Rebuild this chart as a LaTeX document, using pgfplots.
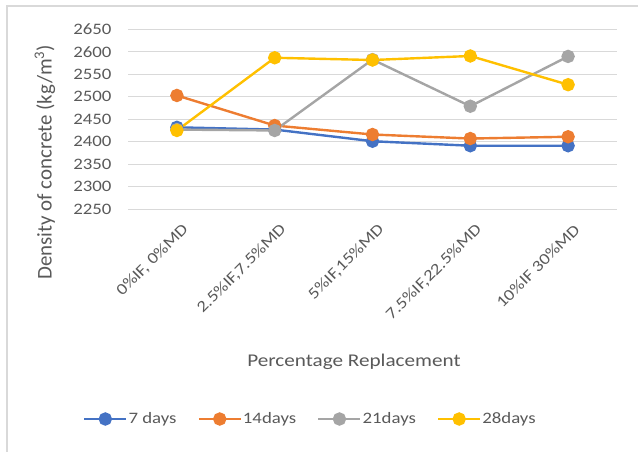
\documentclass[border=0pt]{standalone}
\usepackage{fontspec}
\setmainfont{Carlito}[FakeStretch=1.18]
\newfontfamily\ylabfont{Carlito}
\usepackage{pgfplots}
\pgfplotsset{compat=1.18}
\definecolor{txt}{HTML}{595959}
\definecolor{c1}{HTML}{4472C4}
\definecolor{c2}{HTML}{ED7D31}
\definecolor{c3}{HTML}{A5A5A5}
\definecolor{c4}{HTML}{FFC000}
\definecolor{grd}{HTML}{D9D9D9}
\begin{document}
\begin{tikzpicture}
\useasboundingbox (0,0) rectangle (638bp,452bp);
\draw[color=grd, line width=1.2bp] (7bp,0) -- (7bp,446bp) -- (638bp,446bp);
\begin{axis}[
  at={(128bp,243bp)}, anchor=south west,
  scale only axis, width=489bp, height=179.5bp,
  xmin=-0.5, xmax=4.5, ymin=2250, ymax=2650,
  ytick={2250,2300,...,2650},
  xtick={0,1,2,3,4},
  xticklabels={{0\%IF, 0\%MD}, {2.5\%IF,7.5\%MD}, {5\%IF,15\%MD}, {7.5\%IF,22.5\%MD}, {10\%IF 30\%MD}},
  /pgf/number format/assume math mode=true,
  /pgf/number format/1000 sep={},
  axis line style={draw=none},
  tick style={draw=none},
  ymajorgrids, grid style={color=grd, line width=1bp},
  ticklabel style={font=\fontsize{16}{18}\selectfont, text=txt},
  yticklabel style={xshift=-13bp},
  xticklabel style={rotate=45, anchor=east, yshift=-19bp, xshift=-3bp},
  xlabel={Percentage Replacement},
  xlabel style={font=\fontsize{18}{20}\selectfont, text=txt, at={(axis description cs:0.462,-0.85)}, anchor=center},
  ylabel={Density of concrete (kg/m\textsuperscript{3})},
  ylabel style={font=\ylabfont\fontsize{21}{24}\selectfont, text=txt, at={(axis description cs:-0.17,0.26)}, anchor=center, rotate=0},
  legend columns=4,
  legend style={draw=none, fill=none, at={(axis description cs:0.372,-1.17)}, anchor=center,
    font=\fontsize{16}{18}\selectfont, text=txt,
    /tikz/every odd column/.append style={column sep=0bp},
    /tikz/every even column/.append style={column sep=20bp},
    /tikz/every node/.append style={inner xsep=1bp}},
  legend image code/.code={\draw[mark repeat=2,mark phase=2] plot coordinates {(0bp,0bp) (21bp,0bp) (42bp,0bp)};},
  every axis plot/.append style={line width=2.4bp, mark=*, mark size=5.5bp},
]
\addplot[color=c1, mark options={fill=c1}] coordinates {(0,2432) (1,2427) (2,2401) (3,2391) (4,2391)};
\addplot[color=c2, mark options={fill=c2}] coordinates {(0,2503) (1,2436) (2,2416) (3,2407) (4,2411)};
\addplot[color=c3, mark options={fill=c3}] coordinates {(0,2427) (1,2425) (2,2583) (3,2479) (4,2590)};
\addplot[color=c4, mark options={fill=c4}] coordinates {(0,2425) (1,2587) (2,2582) (3,2591) (4,2527)};
\legend{7 days, 14days, 21days, 28days}
\end{axis}
\end{tikzpicture}
\end{document}
